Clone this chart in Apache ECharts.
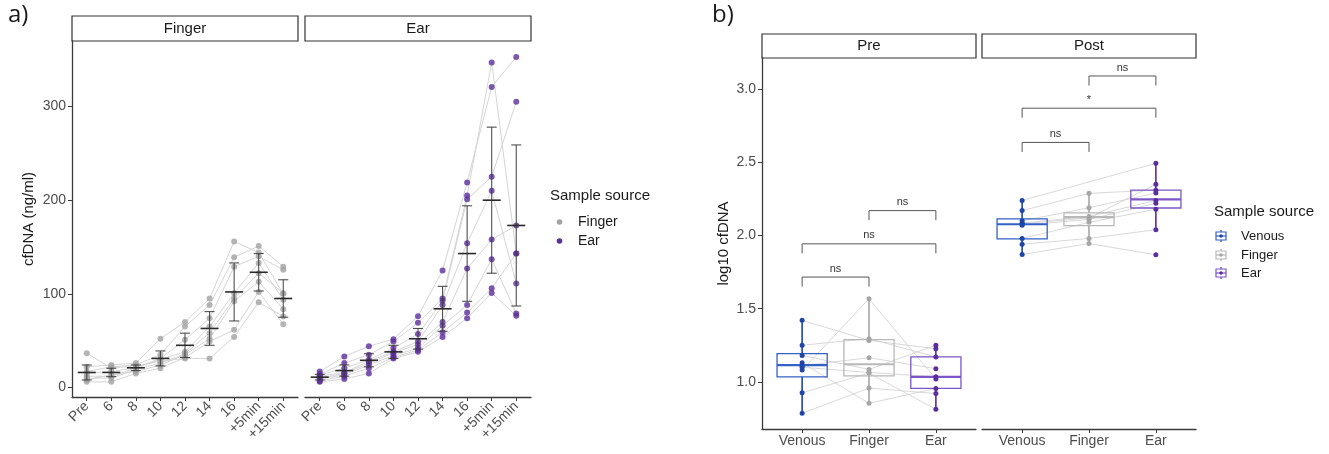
<!DOCTYPE html>
<html>
<head>
<meta charset="utf-8">
<script src="https://cdn.jsdelivr.net/npm/echarts@6.0.0/dist/echarts.min.js"></script>
<style>
  html, body { margin: 0; padding: 0; background: #fff; }
  #main { width: 1329px; height: 454px; }
</style>
</head>
<body>
<div id="main"></div>
<script>
// ---- panel a data (cfDNA ng/ml per subject, per time point) ----
const timePoints = ['Pre', '6', '8', '10', '12', '14', '16', '+5min', '+15min'];
const fingerSubjects = [
  [36.6, 20.6, 23, 28, 31, 31, 54, 91, 75.8],
  [22, 24, 26, 52, 70, 95, 156, 144, 100],
  [17, 22, 24, 35, 65, 88, 139, 151, 129],
  [15, 17, 21, 31, 51, 74, 129, 140, 125.6],
  [12, 12, 20.6, 30, 38, 65, 100.7, 133, 93.6],
  [10, 10, 19, 26, 36, 58, 95, 122, 100.7],
  [8, 13.5, 17, 24, 35, 52, 92, 113, 83.6],
  [6, 6, 15, 20.6, 32, 49, 61.6, 102, 67.6]
];
const earSubjects = [
  [17, 33, 44, 51.6, 76, 125, 219, 321, 353],
  [14, 26, 35, 49, 69, 95, 205, 347, 143],
  [13, 20.6, 29.5, 42, 57, 92.5, 201, 225, 305],
  [12, 16, 28, 38, 49, 88, 154, 210, 111],
  [10, 15, 26, 36.7, 46, 70, 127, 158, 173],
  [9, 13.5, 24, 34, 42, 66, 88, 137, 79],
  [7, 12, 20.6, 32, 40, 59, 80, 106, 143],
  [6, 9, 15, 31, 38, 54, 74, 101, 76.5]
];
// mean and sd
const fingerMean = [16, 16, 21, 31, 45, 63, 102, 123, 95];
const fingerSd = [8, 4.5, 3, 8, 13, 18, 31, 20, 20];
const earMean = [11, 18, 29, 38, 52, 84, 143, 200, 173];
const earSd = [3, 6, 7, 7, 11, 24, 51, 78, 86];
const cfTicks = [0, 100, 200, 300];

// ---- panel b data (log10 cfDNA) ----
const sources = ['Venous', 'Finger', 'Ear'];
const preVenous = [1.42, 1.25, 1.18, 1.13, 1.11, 1.10, 1.08, 0.925, 0.785];
const preFinger = [1.283, 1.295, 1.085, 0.853, 1.165, 1.064, 1.568, 1.06, 0.957];
const preEar = [1.226, 1.17, 1.25, 0.955, 1.09, 1.034, 1.02, 0.812, 0.92];
const postVenous = [2.239, 2.17, 2.10, 2.085, 2.08, 2.07, 1.98, 1.94, 1.87];
const postFinger = [null, 2.288, 2.19, 2.13, 2.12, 2.11, 2.09, 1.98, 1.945];
const postEar = [2.493, 2.31, 2.29, 2.24, 2.35, 2.22, 2.18, 2.04, 1.868];
// box stats [lower whisker, q1, median, q3, upper whisker]
const boxPre = [[0.785, 1.034, 1.114, 1.193, 1.42], [0.853, 1.041, 1.12, 1.289, 1.568], [0.812, 0.955, 1.034, 1.17, 1.25]];
const boxPost = [[1.87, 1.977, 2.077, 2.114, 2.239], [1.94, 2.068, 2.125, 2.155, 2.288], [2.04, 2.188, 2.247, 2.31, 2.493]];
// comparisons [from, to, bracket height]
const sigPre = [[0, 1, 1.716], [0, 2, 1.943], [1, 2, 2.17]];
const sigPreLabels = ['ns', 'ns', 'ns'];
const sigPost = [[0, 1, 2.636], [0, 2, 2.87], [1, 2, 3.09]];
const sigPostLabels = ['ns', '*', 'ns'];
const logTicks = [1.0, 1.5, 2.0, 2.5, 3.0];

const FONT = 'Liberation Sans, Arial, sans-serif';
const AXIS_COL = '#3a3a3a';
const TXT_COL = '#4d4d4d';
const pointCol = ['#1f46a6', '#a6a6a6', '#5a2e9c'];
const boxCol = ['#3461c6', '#b8b8b8', '#7c55c6'];
const fingerDot = '#a3a3a3';
const earDot = '#5d2e9e';

const chart = echarts.init(document.getElementById('main'));

function xAxisA(grid) {
  return {
    type: 'value', gridIndex: grid, min: -0.6, max: 8.6,
    axisLine: { show: true, onZero: false, lineStyle: { color: AXIS_COL, width: 1.3 } },
    axisTick: { show: true, customValues: [0, 1, 2, 3, 4, 5, 6, 7, 8], length: 4, lineStyle: { color: AXIS_COL } },
    axisLabel: {
      customValues: [0, 1, 2, 3, 4, 5, 6, 7, 8],
      formatter: v => timePoints[Math.round(v)],
      rotate: 45, margin: 7, fontSize: 14, color: TXT_COL, fontFamily: FONT
    },
    splitLine: { show: false }
  };
}
function xAxisB(grid) {
  return {
    type: 'value', gridIndex: grid, min: -0.6, max: 2.6,
    axisLine: { show: true, onZero: false, lineStyle: { color: AXIS_COL, width: 1.3 } },
    axisTick: { show: true, customValues: [0, 1, 2], length: 4, lineStyle: { color: AXIS_COL } },
    axisLabel: {
      customValues: [0, 1, 2], formatter: v => sources[Math.round(v)],
      margin: 5, fontSize: 14, color: TXT_COL, fontFamily: FONT
    },
    splitLine: { show: false }
  };
}
function hiddenY(grid, min, max) {
  return {
    type: 'value', gridIndex: grid, min: min, max: max,
    axisLine: { show: false, onZero: false }, axisTick: { show: false }, axisLabel: { show: false }, splitLine: { show: false }
  };
}

function subjectLines(subjects, xi, yi) {
  return subjects.map(s => ({
    type: 'line', xAxisIndex: xi, yAxisIndex: yi, silent: true, symbol: 'none', z: 1,
    data: s.map((v, i) => [i, v]),
    lineStyle: { color: '#cfcfcf', width: 0.9 }
  }));
}
function flatPoints(subjects) {
  const out = [];
  subjects.forEach(s => s.forEach((v, i) => out.push([i, v])));
  return out;
}
function renderErr(params, api) {
  const x = api.value(0), m = api.value(1), s = api.value(2);
  const t = api.coord([x, m + s]), b = api.coord([x, m - s]), c = api.coord([x, m]);
  const st = { stroke: '#3c3c3c', lineWidth: 1.1, opacity: 0.9 };
  return {
    type: 'group', children: [
      { type: 'line', shape: { x1: t[0], y1: t[1], x2: b[0], y2: b[1] }, style: st },
      { type: 'line', shape: { x1: t[0] - 5, y1: t[1], x2: t[0] + 5, y2: t[1] }, style: st },
      { type: 'line', shape: { x1: b[0] - 5, y1: b[1], x2: b[0] + 5, y2: b[1] }, style: st },
      { type: 'line', shape: { x1: c[0] - 9, y1: c[1], x2: c[0] + 9, y2: c[1] }, style: { stroke: '#2a2a2a', lineWidth: 1.6 } }
    ]
  };
}
function renderBox(params, api) {
  const x = api.value(0);
  const lo = api.value(1), q1 = api.value(2), med = api.value(3), q3 = api.value(4), hi = api.value(5);
  const k = Math.round(x);
  const pL = api.coord([x - 0.375, q3]), pR = api.coord([x + 0.375, q1]);
  const m1 = api.coord([x - 0.375, med]), m2 = api.coord([x + 0.375, med]);
  const wLo = api.coord([x, lo]), wQ1 = api.coord([x, q1]), wQ3 = api.coord([x, q3]), wHi = api.coord([x, hi]);
  const wst = { stroke: pointCol[k], lineWidth: 1.6 };
  return {
    type: 'group', children: [
      { type: 'line', shape: { x1: wLo[0], y1: wLo[1], x2: wQ1[0], y2: wQ1[1] }, style: wst },
      { type: 'line', shape: { x1: wQ3[0], y1: wQ3[1], x2: wHi[0], y2: wHi[1] }, style: wst },
      { type: 'rect', shape: { x: pL[0], y: pL[1], width: pR[0] - pL[0], height: pR[1] - pL[1] },
        style: { fill: 'none', stroke: boxCol[k], lineWidth: 1.3 } },
      { type: 'line', shape: { x1: m1[0], y1: m1[1], x2: m2[0], y2: m2[1] }, style: { stroke: boxCol[k], lineWidth: 2.2 } }
    ]
  };
}
function bracketRenderer(labels) {
  return function (params, api) {
    const a = api.value(0), b = api.value(1), y = api.value(2);
    const drop = 0.065;
    const p1 = api.coord([a, y - drop]), p2 = api.coord([a, y]), p3 = api.coord([b, y]), p4 = api.coord([b, y - drop]);
    return {
      type: 'group', children: [
        { type: 'polyline', shape: { points: [p1, p2, p3, p4] }, style: { fill: 'none', stroke: '#555', lineWidth: 1 } },
        { type: 'text', x: (p2[0] + p3[0]) / 2, y: p2[1] - 3,
          style: { text: labels[params.dataIndex], textAlign: 'center', textVerticalAlign: 'bottom', fontSize: 11, fill: '#333', fontFamily: FONT } }
      ]
    };
  };
}
function subjectLinesB(v, f, e, xi, yi) {
  return v.map((_, i) => ({
    type: 'line', xAxisIndex: xi, yAxisIndex: yi, silent: true, symbol: 'none', z: 1, connectNulls: true,
    data: [[0, v[i]], [1, f[i]], [2, e[i]]].filter(p => p[1] !== null),
    lineStyle: { color: '#d4d4d4', width: 0.9 }
  }));
}
function pointsB(vals, x, xi, yi) {
  return {
    type: 'scatter', xAxisIndex: xi, yAxisIndex: yi, silent: true, z: 5, symbolSize: 5,
    itemStyle: { color: pointCol[x], opacity: 1 },
    data: vals.filter(v => v !== null).map(v => [x, v])
  };
}

function strip(x, y, w, h, label) {
  return {
    type: 'group', children: [
      { type: 'rect', shape: { x: x, y: y, width: w, height: h }, style: { fill: '#fff', stroke: '#333', lineWidth: 1.2 } },
      { type: 'text', x: x + w / 2, y: y + h / 2,
        style: { text: label, textAlign: 'center', textVerticalAlign: 'middle', fontSize: 15, fill: '#1a1a1a', fontFamily: FONT } }
    ]
  };
}
function legendText(x, y, s, size) {
  return { type: 'text', x: x, y: y, style: { text: s, textVerticalAlign: 'middle', fontSize: size, fill: '#1a1a1a', fontFamily: FONT } };
}
function boxGlyph(cx, cy, k) {
  return {
    type: 'group', children: [
      { type: 'line', shape: { x1: cx, y1: cy - 6, x2: cx, y2: cy + 6 }, style: { stroke: pointCol[k], lineWidth: 1.2 } },
      { type: 'rect', shape: { x: cx - 5, y: cy - 4, width: 10, height: 8 }, style: { fill: '#fff', stroke: boxCol[k], lineWidth: 1.2 } },
      { type: 'line', shape: { x1: cx - 5, y1: cy, x2: cx + 5, y2: cy }, style: { stroke: boxCol[k], lineWidth: 1.2 } },
      { type: 'circle', shape: { cx: cx, cy: cy, r: 1.8 }, style: { fill: pointCol[k] } }
    ]
  };
}

const series = [];
// panel a
series.push(...subjectLines(fingerSubjects, 0, 0));
series.push({ type: 'scatter', xAxisIndex: 0, yAxisIndex: 0, silent: true, z: 3, symbolSize: 6,
  itemStyle: { color: fingerDot }, data: flatPoints(fingerSubjects) });
series.push({ type: 'custom', xAxisIndex: 0, yAxisIndex: 0, z: 6, silent: true, renderItem: renderErr,
  data: fingerMean.map((m, i) => [i, m, fingerSd[i]]) });
series.push(...subjectLines(earSubjects, 1, 1));
series.push({ type: 'scatter', xAxisIndex: 1, yAxisIndex: 1, silent: true, z: 3, symbolSize: 6,
  itemStyle: { color: earDot }, data: flatPoints(earSubjects) });
series.push({ type: 'custom', xAxisIndex: 1, yAxisIndex: 1, z: 6, silent: true, renderItem: renderErr,
  data: earMean.map((m, i) => [i, m, earSd[i]]) });
// panel b
series.push(...subjectLinesB(preVenous, preFinger, preEar, 2, 2));
series.push({ type: 'custom', xAxisIndex: 2, yAxisIndex: 2, z: 3, silent: true, renderItem: renderBox,
  data: boxPre.map((b, i) => [i].concat(b)) });
series.push(pointsB(preVenous, 0, 2, 2), pointsB(preFinger, 1, 2, 2), pointsB(preEar, 2, 2, 2));
series.push({ type: 'custom', xAxisIndex: 2, yAxisIndex: 2, z: 4, silent: true, renderItem: bracketRenderer(sigPreLabels),
  data: sigPre });
series.push(...subjectLinesB(postVenous, postFinger, postEar, 3, 3));
series.push({ type: 'custom', xAxisIndex: 3, yAxisIndex: 3, z: 3, silent: true, renderItem: renderBox,
  data: boxPost.map((b, i) => [i].concat(b)) });
series.push(pointsB(postVenous, 0, 3, 3), pointsB(postFinger, 1, 3, 3), pointsB(postEar, 2, 3, 3));
series.push({ type: 'custom', xAxisIndex: 3, yAxisIndex: 3, z: 4, silent: true, renderItem: bracketRenderer(sigPostLabels),
  data: sigPost });

chart.setOption({
  animation: false,
  backgroundColor: '#fff',
  grid: [
    { left: 72, top: 41, width: 226, height: 356 },
    { left: 305, top: 41, width: 226, height: 356 },
    { left: 762, top: 58, width: 214, height: 371 },
    { left: 982, top: 58, width: 214, height: 371 }
  ],
  xAxis: [xAxisA(0), xAxisA(1), xAxisB(2), xAxisB(3)],
  yAxis: [
    {
      type: 'value', gridIndex: 0, min: -10.2, max: 370,
      name: 'cfDNA (ng/ml)', nameLocation: 'middle', nameGap: 36, nameRotate: 90,
      nameTextStyle: { fontSize: 15, color: '#1a1a1a', fontFamily: FONT },
      axisLine: { show: true, onZero: false, lineStyle: { color: AXIS_COL, width: 1.3 } },
      axisTick: { show: true, customValues: cfTicks, length: 4, lineStyle: { color: AXIS_COL } },
      axisLabel: { customValues: cfTicks, margin: 6, fontSize: 14, color: TXT_COL, fontFamily: FONT },
      splitLine: { show: false }
    },
    hiddenY(1, -10.2, 370),
    {
      type: 'value', gridIndex: 2, min: 0.6776, max: 3.213,
      name: 'log10 cfDNA', nameLocation: 'middle', nameGap: 31, nameRotate: 90,
      nameTextStyle: { fontSize: 15, color: '#1a1a1a', fontFamily: FONT },
      axisLine: { show: true, onZero: false, lineStyle: { color: AXIS_COL, width: 1.3 } },
      axisTick: { show: true, customValues: logTicks, length: 4, lineStyle: { color: AXIS_COL } },
      axisLabel: { customValues: logTicks, formatter: v => v.toFixed(1), margin: 6, fontSize: 14, color: TXT_COL, fontFamily: FONT },
      splitLine: { show: false }
    },
    hiddenY(3, 0.6776, 3.213)
  ],
  graphic: [
    { type: 'text', left: 8, top: 3, style: { text: 'a)', fontSize: 24, fill: '#1a1a1a', fontFamily: 'Open Sans, sans-serif' } },
    { type: 'text', left: 712, top: 3, style: { text: 'b)', fontSize: 24, fill: '#1a1a1a', fontFamily: 'Open Sans, sans-serif' } },
    strip(72, 16, 226, 25, 'Finger'),
    strip(305, 16, 226, 25, 'Ear'),
    strip(762, 34, 214, 24, 'Pre'),
    strip(982, 34, 214, 24, 'Post'),
    legendText(550, 196, 'Sample source', 15),
    { type: 'circle', shape: { cx: 559.5, cy: 222, r: 2.8 }, style: { fill: fingerDot } },
    legendText(578, 222, 'Finger', 14),
    { type: 'circle', shape: { cx: 559.5, cy: 241, r: 2.8 }, style: { fill: earDot } },
    legendText(578, 241, 'Ear', 14),
    legendText(1214, 212, 'Sample source', 15),
    boxGlyph(1221, 236, 0), legendText(1241, 236, 'Venous', 13),
    boxGlyph(1221, 255, 1), legendText(1241, 255, 'Finger', 13),
    boxGlyph(1221, 273, 2), legendText(1241, 273, 'Ear', 13)
  ],
  series: series
});
</script>
</body>
</html>
